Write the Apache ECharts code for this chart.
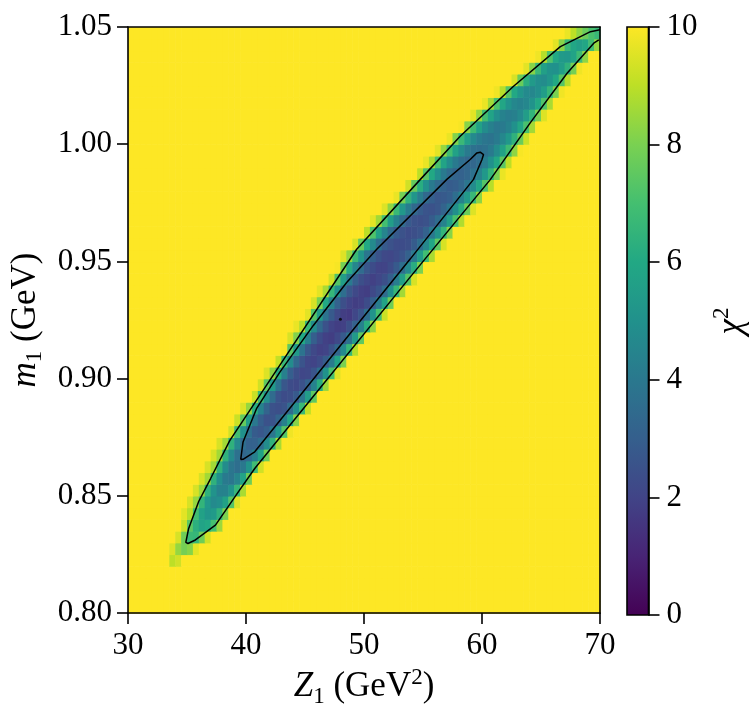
<!DOCTYPE html>
<html><head><meta charset="utf-8">
<script src="https://cdn.jsdelivr.net/npm/echarts@6/dist/echarts.min.js"></script>
<style>html,body{margin:0;padding:0;background:#fff}#c{width:750px;height:713px}</style>
</head><body><div id="c"></div>
<script>
// ---- grid definition of the chi^2 scan ----
const Z_MIN = 30, Z_MAX = 70, Z_STEP = 0.5, N_COLS = 80;
const M_MIN = 0.80, M_MAX = 1.05, M_STEP = 0.005, N_ROWS = 50;
const CHI2_SATURATED = 10;          // yellow background: values at/above colour-scale top
const X_TICK_INTERVAL = 10;
const Y_TICK_INTERVAL = 0.05;
const CBAR_MIN = 0, CBAR_MAX = 10, CBAR_TICK_INTERVAL = 2;

// per row (m1 bin, bottom to top): first non-saturated column and the chi^2 values
const ROW_START = [
  -1, -1, -1, -1, 7, 7, 8, 9, 9, 10,
  11, 12, 13, 14, 15, 17, 18, 19, 21, 22,
  23, 25, 26, 27, 28, 30, 31, 32, 34, 35,
  36, 38, 40, 41, 43, 45, 47, 49, 50, 52,
  54, 56, 58, 60, 62, 65, 67, 69, 72, 74
];
const ROW_VALUES = [
  [], [], [], [],
  [9.0, 9.3],
  [9.5, 8.4, 7.9, 8.2, 9.6],
  [9.4, 7.8, 6.7, 6.6, 7.8, 9.3],
  [9.2, 7.4, 6.3, 5.8, 6.0, 7.0, 8.5],
  [9.6, 8.9, 6.9, 5.7, 5.2, 5.4, 6.4, 8.0],
  [9.4, 8.4, 6.5, 5.3, 4.7, 4.9, 5.7, 7.3, 9.5],
  [9.4, 8.5, 6.4, 5.1, 4.4, 4.4, 5.1, 6.6, 8.7],
  [9.4, 8.6, 6.4, 4.9, 4.1, 3.9, 4.5, 5.8, 7.8],
  [9.4, 8.6, 6.4, 4.8, 3.9, 3.6, 4.0, 5.1, 6.9, 9.3],
  [9.4, 8.6, 6.4, 4.7, 3.7, 3.3, 3.5, 4.3, 5.7, 7.8],
  [9.4, 8.6, 6.4, 4.7, 3.6, 3.1, 3.1, 3.6, 4.8, 6.4, 8.7],
  [9.3, 6.9, 5.0, 3.7, 2.9, 2.7, 3.0, 3.9, 5.3, 7.3, 9.8],
  [9.2, 7.6, 5.6, 4.0, 3.0, 2.5, 2.6, 3.2, 4.3, 6.0, 8.2],
  [9.5, 8.4, 6.2, 4.4, 3.2, 2.5, 2.4, 2.6, 3.5, 4.9, 6.7, 9.1],
  [9.2, 6.8, 4.9, 3.5, 2.6, 2.3, 2.4, 2.8, 3.9, 5.5, 7.5],
  [9.3, 7.5, 5.4, 3.8, 2.7, 2.3, 2.2, 2.5, 3.1, 4.4, 6.2, 8.5],
  [9.5, 8.3, 6.1, 4.3, 3.0, 2.4, 2.1, 2.2, 2.6, 3.6, 5.1, 7.0, 9.5],
  [9.1, 6.7, 4.8, 3.4, 2.6, 2.1, 2.0, 2.3, 2.9, 4.1, 5.8, 8.0],
  [9.9, 7.4, 5.4, 3.8, 2.7, 2.2, 1.9, 2.0, 2.5, 3.3, 4.7, 6.6, 8.9],
  [9.4, 8.1, 6.0, 4.3, 3.0, 2.3, 1.9, 1.8, 2.2, 2.8, 3.8, 5.4, 7.5, 9.9],
  [9.7, 8.9, 6.6, 4.8, 3.4, 2.5, 2.0, 1.8, 1.9, 2.4, 3.1, 4.4, 6.2, 8.3],
  [9.6, 7.3, 5.4, 3.8, 2.8, 2.2, 1.8, 1.7, 2.1, 2.6, 3.6, 5.1, 7.0, 9.2],
  [9.4, 8.0, 6.0, 4.4, 3.1, 2.4, 2.0, 1.8, 1.9, 2.3, 3.0, 4.2, 5.8, 7.8],
  [9.6, 8.7, 6.6, 4.9, 3.6, 2.7, 2.2, 1.9, 1.8, 2.2, 2.6, 3.5, 4.9, 6.6, 8.6],
  [9.3, 7.3, 5.5, 4.1, 3.0, 2.4, 2.1, 1.9, 2.1, 2.4, 3.0, 4.2, 5.6, 7.3, 9.4],
  [9.9, 7.9, 6.1, 4.6, 3.5, 2.7, 2.3, 2.0, 2.0, 2.3, 2.8, 3.6, 4.7, 6.2, 8.0],
  [9.5, 8.4, 6.7, 5.2, 3.9, 3.0, 2.5, 2.2, 2.1, 2.3, 2.6, 3.1, 4.1, 5.4, 6.9, 8.7],
  [9.4, 7.6, 6.0, 4.7, 3.6, 2.8, 2.5, 2.3, 2.3, 2.4, 2.9, 3.6, 4.6, 5.9, 7.5, 9.4],
  [9.0, 7.2, 5.7, 4.5, 3.5, 2.8, 2.5, 2.3, 2.4, 2.6, 3.1, 4.0, 5.1, 6.5, 8.2],
  [9.6, 8.6, 7.0, 5.5, 4.4, 3.5, 2.8, 2.5, 2.4, 2.5, 2.9, 3.5, 4.4, 5.6, 7.1, 8.8],
  [9.5, 8.3, 6.7, 5.3, 4.2, 3.4, 2.9, 2.6, 2.5, 2.7, 3.2, 3.9, 4.9, 6.2, 7.7, 9.5],
  [9.7, 7.9, 6.4, 5.2, 4.2, 3.4, 3.0, 2.7, 2.8, 3.0, 3.6, 4.4, 5.4, 6.7, 8.3],
  [9.3, 7.6, 6.2, 5.0, 4.1, 3.5, 3.1, 2.9, 3.0, 3.3, 3.9, 4.8, 5.9, 7.3, 8.9],
  [9.0, 7.4, 6.0, 4.9, 4.1, 3.5, 3.2, 3.1, 3.3, 3.7, 4.4, 5.3, 6.5, 8.0, 9.7],
  [9.7, 8.7, 7.1, 5.8, 4.8, 4.1, 3.6, 3.3, 3.3, 3.6, 4.2, 5.0, 6.0, 7.4, 9.0],
  [9.6, 8.4, 6.9, 5.7, 4.8, 4.1, 3.7, 3.6, 3.7, 4.1, 4.8, 5.7, 6.8, 8.3, 9.9],
  [9.7, 8.1, 6.7, 5.6, 4.7, 4.2, 3.9, 3.8, 4.1, 4.6, 5.3, 6.4, 7.7, 9.2],
  [9.9, 8.2, 6.8, 5.7, 4.8, 4.3, 4.0, 4.1, 4.4, 5.0, 5.9, 7.1, 8.6],
  [9.6, 8.4, 6.9, 5.8, 4.9, 4.4, 4.2, 4.3, 4.7, 5.5, 6.5, 7.9, 9.5],
  [9.7, 8.6, 7.1, 5.9, 5.1, 4.6, 4.4, 4.6, 5.1, 6.0, 7.2, 8.7],
  [9.8, 8.9, 7.3, 6.0, 5.2, 4.7, 4.6, 4.9, 5.5, 6.6, 8.0, 9.8],
  [9.4, 7.7, 6.3, 5.4, 4.9, 4.8, 5.2, 6.0, 7.3, 8.9],
  [9.6, 8.2, 6.7, 5.6, 5.1, 5.0, 5.5, 6.4, 7.9, 9.8],
  [9.8, 8.9, 7.2, 6.0, 5.4, 5.3, 5.8, 6.8, 8.3],
  [9.6, 8.2, 6.7, 5.9, 5.6, 5.9, 6.9, 8.4],
  [9.7, 9.0, 8.3, 7.7, 7.1, 6.7]
];

// contour lines, [Z1, m1]
const OUTER_CONTOUR = [
  [70.0, 1.0488], [69.87, 1.0487], [69.19, 1.0480], [66.64, 1.0416], [62.65, 1.0246],
  [58.15, 1.0034], [54.76, 0.9849], [49.38, 0.9552], [43.49, 0.9105], [40.97, 0.8914],
  [38.62, 0.8736], [37.00, 0.8574], [35.99, 0.8476], [35.14, 0.8361], [34.90, 0.8302],
  [35.08, 0.8297], [35.71, 0.8312], [37.41, 0.8375], [39.38, 0.8519], [40.74, 0.8617],
  [45.54, 0.8914], [53.91, 0.9433], [60.70, 0.9849], [64.10, 1.0092], [67.21, 1.0303],
  [69.47, 1.0431], [69.90, 1.0445], [70.0, 1.0448]
];
const INNER_CONTOUR = [
  [39.55, 0.8655], [39.75, 0.8730], [40.89, 0.8872], [42.87, 0.9028], [45.69, 0.9226],
  [48.53, 0.9410], [51.08, 0.9552], [57.02, 0.9850], [59.00, 0.9935], [59.57, 0.9963],
  [59.85, 0.9966], [60.13, 0.9956], [60.00, 0.9935], [59.28, 0.9850], [53.91, 0.9510],
  [46.86, 0.9070], [40.74, 0.8688], [39.75, 0.8656], [39.55, 0.8655]
];
const BEST_FIT = [[48.0, 0.9253]];

const VIRIDIS = ['#440154', '#482475', '#414487', '#355f8d', '#2a788e', '#21918c',
                 '#22a884', '#44bf70', '#7ad151', '#bddf26', '#fde725'];

// ---- build cells ----
const heatData = [];
for (let j = 0; j < N_ROWS; j++) {
  const s = ROW_START[j], vals = ROW_VALUES[j];
  for (let i = 0; i < N_COLS; i++) {
    let v = CHI2_SATURATED;
    if (s >= 0 && i >= s && i < s + vals.length) v = vals[i - s];
    heatData.push([Z_MIN + (i + 0.5) * Z_STEP, M_MIN + (j + 0.5) * M_STEP, v]);
  }
}

const FONT = 'Liberation Serif';
const TICK_FS = 31, NAME_FS = 35;
const richName = {
  n: { fontFamily: FONT, fontSize: NAME_FS, lineHeight: 42, color: '#000' },
  i: { fontFamily: FONT, fontSize: NAME_FS, lineHeight: 42, fontStyle: 'italic', color: '#000' },
  sub: { fontFamily: FONT, fontSize: 23, lineHeight: 21, verticalAlign: 'bottom', color: '#000' },
  sup: { fontFamily: FONT, fontSize: 23, lineHeight: 29, verticalAlign: 'top', color: '#000' }
};
const axLine = { show: true, onZero: false, lineStyle: { color: '#000', width: 1.6 } };
const axTick = { show: true, length: 11, lineStyle: { color: '#000', width: 1.6 } };
const axLabel = { fontFamily: FONT, fontSize: TICK_FS, color: '#000' };

const chart = echarts.init(document.getElementById('c'), null, { renderer: 'canvas' });
chart.setOption({
  animation: false,
  backgroundColor: '#fff',
  grid: [
    { left: 128, top: 27, width: 472, height: 588 },
    { left: 627, top: 27, width: 32, height: 588 }
  ],
  visualMap: {
    type: 'continuous', show: false, min: CBAR_MIN, max: CBAR_MAX, dimension: 2,
    seriesIndex: 0, inRange: { color: VIRIDIS }
  },
  xAxis: [
    { gridIndex: 0, type: 'value', min: Z_MIN, max: Z_MAX, interval: X_TICK_INTERVAL, position: 'bottom',
      axisLine: axLine, axisTick: axTick, axisLabel: Object.assign({ margin: 17 }, axLabel),
      splitLine: { show: false }, z: 10,
      name: '{i|Z}{sub|1}{n| (GeV}{sup|2}{n|)}', nameLocation: 'middle', nameGap: 47,
      nameTextStyle: { rich: richName } },
    { gridIndex: 0, type: 'value', min: Z_MIN, max: Z_MAX, position: 'top',
      axisLine: axLine, axisTick: { show: false }, axisLabel: { show: false }, splitLine: { show: false }, z: 10 },
    { gridIndex: 1, type: 'value', min: 0, max: 1, show: false }
  ],
  yAxis: [
    { gridIndex: 0, type: 'value', min: M_MIN, max: M_MAX, interval: Y_TICK_INTERVAL, position: 'left',
      axisLine: axLine, axisTick: axTick,
      axisLabel: Object.assign({ margin: 16, formatter: v => v.toFixed(2) }, axLabel),
      splitLine: { show: false }, z: 10,
      name: '{i|m}{sub|1}{n| (GeV)}', nameLocation: 'middle', nameGap: 76,
      nameTextStyle: { rich: richName } },
    { gridIndex: 0, type: 'value', min: M_MIN, max: M_MAX, position: 'right',
      axisLine: axLine, axisTick: { show: false }, axisLabel: { show: false }, splitLine: { show: false }, z: 10 },
    { gridIndex: 1, type: 'value', min: CBAR_MIN, max: CBAR_MAX, interval: CBAR_TICK_INTERVAL, position: 'right',
      axisLine: axLine, axisTick: axTick, axisLabel: Object.assign({ margin: 18 }, axLabel),
      splitLine: { show: false }, z: 10,
      name: '{i|χ}{sup|2}', nameLocation: 'middle', nameGap: 62,
      nameTextStyle: { rich: richName } }
  ],
  series: [
    { type: 'custom', xAxisIndex: 0, yAxisIndex: 0, data: heatData, clip: true, silent: true, z: 1,
      encode: { x: 0, y: 1 },
      renderItem: function (params, api) {
        const z = api.value(0), m = api.value(1);
        const p0 = api.coord([z - Z_STEP / 2, m + M_STEP / 2]);
        const p1 = api.coord([z + Z_STEP / 2, m - M_STEP / 2]);
        return { type: 'rect',
          shape: { x: p0[0], y: p0[1], width: p1[0] - p0[0] + 0.6, height: p1[1] - p0[1] + 0.6 },
          style: { fill: api.visual('color') } };
      } },
    { type: 'line', xAxisIndex: 0, yAxisIndex: 0, data: OUTER_CONTOUR, showSymbol: false, symbol: 'none',
      lineStyle: { color: '#000', width: 1.5 }, z: 5, silent: true },
    { type: 'line', xAxisIndex: 0, yAxisIndex: 0, data: INNER_CONTOUR, showSymbol: false, symbol: 'none',
      lineStyle: { color: '#000', width: 1.5 }, z: 5, silent: true },
    { type: 'scatter', xAxisIndex: 0, yAxisIndex: 0, data: BEST_FIT, symbolSize: 3,
      itemStyle: { color: '#000' }, z: 6, silent: true },
    { type: 'custom', xAxisIndex: 2, yAxisIndex: 2, data: [[0, CBAR_MIN, CBAR_MAX]], silent: true, z: 1,
      renderItem: function (params, api) {
        const tl = api.coord([0, api.value(2)]);
        const br = api.coord([1, api.value(1)]);
        const stops = VIRIDIS.map((c, k) => ({ offset: 1 - k / (VIRIDIS.length - 1), color: c })).reverse();
        return { type: 'rect',
          shape: { x: tl[0], y: tl[1], width: br[0] - tl[0], height: br[1] - tl[1] },
          style: { fill: { type: 'linear', x: 0, y: 0, x2: 0, y2: 1, colorStops: stops },
                   stroke: '#000', lineWidth: 1.6 } };
      } }
  ]
});
</script>
</body></html>
